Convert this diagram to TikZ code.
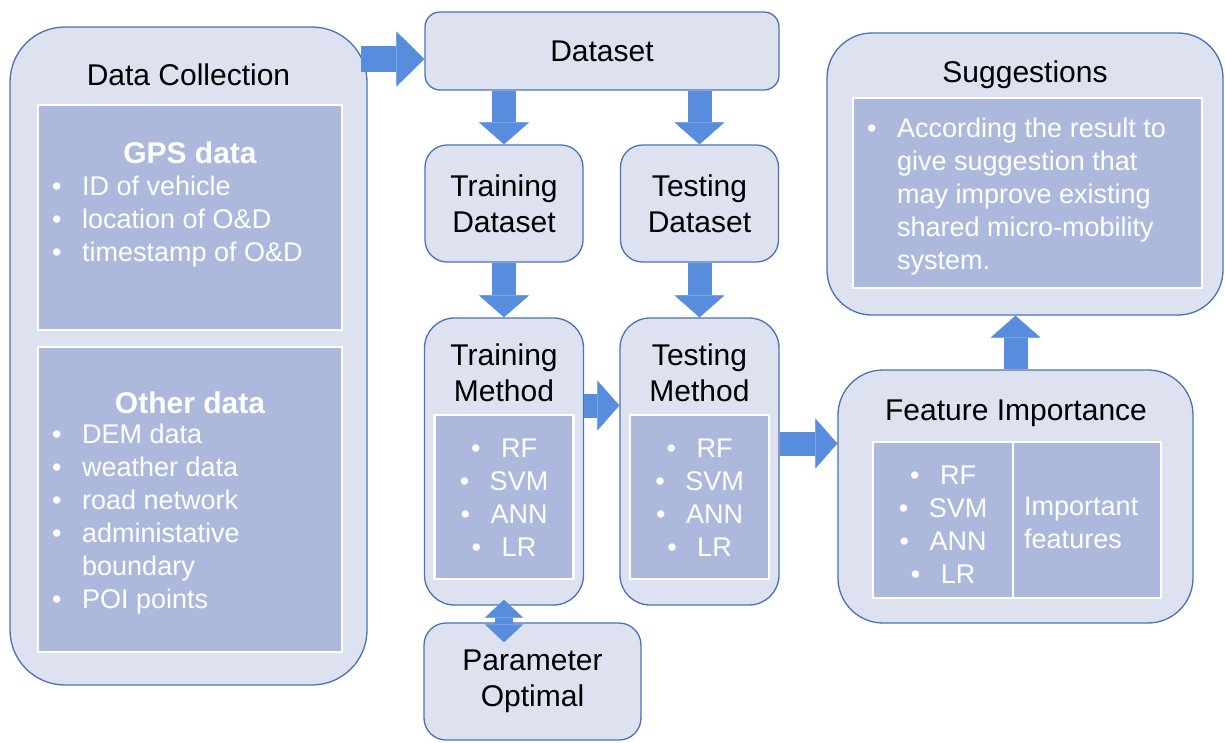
\documentclass[tikz,border=0pt]{standalone}
\usepackage{fontspec}
\setmainfont{Liberation Sans}
\usetikzlibrary{arrows.meta}

\definecolor{boxfill}{RGB}{221,225,240}
\definecolor{boxline}{RGB}{74,114,184}
\definecolor{panelfill}{RGB}{173,185,220}
\definecolor{arrowblue}{RGB}{88,140,220}

% bullet with a fixed gap before the item text
\newcommand{\bul}{\makebox[30pt][l]{\fontsize{27}{27}\selectfont\textbullet}}
\newcommand{\modellist}{\bul RF\\\bul SVM\\\bul ANN\\\bul LR}

\begin{document}
\begin{tikzpicture}[x=1pt,y=-1pt,
    stage/.style={draw=boxline,line width=1.3pt,fill=boxfill,rounded corners=#1,inner sep=0pt},
    stage/.default=22pt,
    panel/.style={draw=white,line width=2.5pt,fill=panelfill,inner sep=0pt},
    title/.style={font=\fontsize{30}{36}\selectfont,align=center,inner sep=0pt},
    body/.style={text=white,font=\fontsize{27}{33}\selectfont,inner sep=0pt},
    flow/.style={draw=arrowblue,line width=24pt,
      -{Triangle[length=22pt,width=50pt,line width=0.5pt]}}]
    \useasboundingbox (0,0) rectangle (1225,742);

    % data collection column
    \node[stage=55pt,minimum width=357pt,minimum height=658pt] (coll) at (188.5,356) {};
    \node[title] (coll-title) at (188.5,75) {Data Collection};
    \node[panel,minimum width=304pt,minimum height=225pt] (gps) at (190,217.5) {};
    \node[body,font=\fontsize{30}{36}\selectfont\bfseries] (gps-title) at (190,153) {GPS data};
    \node[body,anchor=west,align=left] (gps-list) at (52,222) {%
      \bul ID of vehicle\\\bul location of O\&D\\\bul timestamp of O\&D};
    \node[panel,minimum width=304pt,minimum height=305pt] (other) at (190,499.5) {};
    \node[body,font=\fontsize{30}{36}\selectfont\bfseries] (other-title) at (190,403) {Other data};
    \node[body,anchor=west,align=left] (other-list) at (52,519.5) {%
      \bul DEM data\\\bul weather data\\\bul road network\\
      \bul administative\\\hspace*{30pt}boundary\\\bul POI points};

    % dataset and the two branches
    \node[stage=15pt,title,minimum width=354pt,minimum height=78pt] (dataset) at (602,51) {Dataset};
    \foreach \x/\t/\n in {504/Training/train, 699.5/Testing/test}{
      \node[stage,title,minimum width=158pt,minimum height=117pt] (\n-set) at (\x,203.5) {\t\\Dataset};
      \node[stage=30pt,minimum width=159pt,minimum height=287pt] (\n-m) at (\x,461.5) {};
      \node[title] (\n-title) at (\x,373) {\t\\Method};
      \node[panel,minimum width=139pt,minimum height=164pt] (\n-panel) at (\x,497) {};
      \node[body,align=center] (\n-list) at (\x,498) {\modellist};
    }
    \node[stage,title,minimum width=217pt,minimum height=117pt] (param) at (532.5,681.5) {Parameter\\Optimal};

    % feature importance
    \node[stage=45pt,minimum width=355pt,minimum height=253pt] (feat) at (1015.5,496.5) {};
    \node[title] (feat-title) at (1016,413) {Feature Importance};
    \node[panel,minimum width=140pt,minimum height=156pt] (feat-panel) at (943,520) {};
    \node[panel,minimum width=148pt,minimum height=156pt] (imp-panel) at (1087,520) {};
    \node[body,align=center] (feat-list) at (943,524.5) {\modellist};
    \node[body,anchor=west,align=left] (imp) at (1024,522.5) {Important\\features};

    % suggestions
    \node[stage=45pt,minimum width=396pt,minimum height=282pt] (sugg) at (1025,174) {};
    \node[title] (sugg-title) at (1025,75) {Suggestions};
    \node[panel,minimum width=349pt,minimum height=190pt] (sugg-panel) at (1027.5,193) {};
    \node[body,anchor=west,align=left] (sugg-text) at (867,197) {%
      \bul According the result to\\\hspace*{30pt}give suggestion that\\
      \hspace*{30pt}may improve existing\\\hspace*{30pt}shared micro-mobility\\
      \hspace*{30pt}system.};

    % block arrows
    \coordinate (coll-out) at (361,59);
    \draw[flow,line width=26pt,-{Triangle[length=28pt,width=55pt,line width=0.5pt]}]
      (coll-out) -- (coll-out -| dataset.west);
    \foreach \n in {train,test}{
      \draw[flow] (dataset.south -| \n-set.north) -- (\n-set.north);
      \draw[flow] (\n-set.south) -- (\n-m.north);
    }
    \coordinate (tm) at ([yshift=56pt]train-m.east);
    \draw[flow] (tm) -- (tm -| test-m.west);
    \coordinate (fm) at ([yshift=18pt]test-m.east);
    \draw[flow] (fm) -- (fm -| feat.west);
    \draw[flow] (feat.north) -- (feat.north |- sugg.south);
    \draw[flow,line width=18pt,
      {Triangle[length=18pt,width=38pt,line width=0.5pt]}-{Triangle[length=18pt,width=38pt,line width=0.5pt]}]
      ([yshift=6pt]train-m.south) -- ([yshift=-20pt]train-m.south |- param.north);
\end{tikzpicture}
\end{document}
